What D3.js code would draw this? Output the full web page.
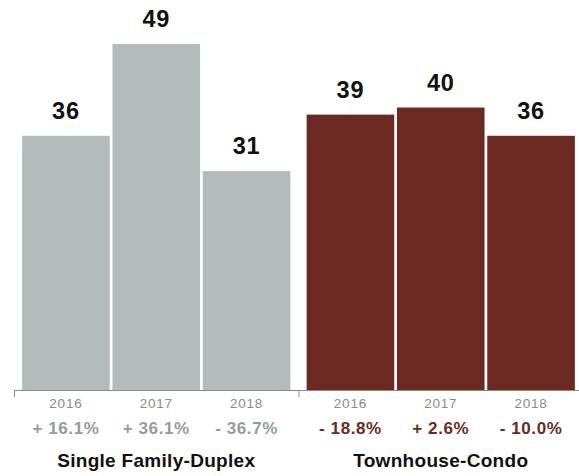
<!DOCTYPE html>
<html>
<head>
<meta charset="utf-8">
<script src="https://cdn.jsdelivr.net/npm/d3@7"></script>
<style>
  html, body { margin: 0; padding: 0; background: #fff; }
  svg { display: block; font-family: "Liberation Sans", Arial, Helvetica, sans-serif; }
</style>
</head>
<body>
<svg id="chart" width="579" height="476"></svg>
<script>
// Property types and years
const groups = ["Single Family-Duplex", "Townhouse-Condo"];
const years = ["2016", "2017", "2018"];

// Sales counts per year, one array per property type
const singleFamily = [36, 49, 31];
const townhouse = [39, 40, 36];

// Year-over-year change labels
const singleFamilyChange = ["+ 16.1%", "+ 36.1%", "- 36.7%"];
const townhouseChange = ["- 18.8%", "+ 2.6%", "- 10.0%"];

const barColors = ["#b4bbbb", "#6b2922"];
const changeColors = ["#939c9c", "#6b2922"];

const seriesValues = [singleFamily, townhouse];
const seriesChange = [singleFamilyChange, townhouseChange];

const svg = d3.select("#chart");
const baseY = 390;

const x0 = d3.scaleBand().domain(groups).range([14, 583]).padding(0);
const x1 = d3.scaleBand().domain(years).range([0, x0.bandwidth()])
  .paddingInner(0.03).paddingOuter(0.09);
const y = d3.scaleLinear().domain([0, 49]).range([baseY, 44]);

// Axis line with ticks on the group boundaries
const boundary = d3.scaleLinear().domain([0, groups.length]).range(x0.range());
svg.append("g")
  .attr("transform", `translate(0,${baseY})`)
  .call(d3.axisBottom(boundary).tickValues([0, 1, 2]).tickSize(7).tickSizeOuter(0).tickFormat(""))
  .call(g => g.select(".domain").attr("stroke", "#8a8a8a"))
  .call(g => g.selectAll(".tick line").attr("stroke", "#8a8a8a"));

groups.forEach((grp, gi) => {
  const g = svg.append("g").attr("transform", `translate(${x0(grp)},0)`);
  const rows = years.map((yr, i) => ({ yr, v: seriesValues[gi][i], c: seriesChange[gi][i] }));

  g.selectAll("rect").data(rows).join("rect")
    .attr("x", d => x1(d.yr))
    .attr("y", d => y(d.v))
    .attr("width", x1.bandwidth())
    .attr("height", d => baseY - y(d.v))
    .attr("fill", barColors[gi]);

  g.selectAll("text.val").data(rows).join("text")
    .attr("class", "val")
    .attr("x", d => x1(d.yr) + x1.bandwidth() / 2)
    .attr("y", d => y(d.v) - 17)
    .attr("text-anchor", "middle")
    .attr("font-size", 23.5)
    .attr("font-weight", "bold")
    .attr("letter-spacing", 0.8)
    .attr("fill", "#111")
    .text(d => d.v);

  g.selectAll("text.yr").data(rows).join("text")
    .attr("class", "yr")
    .attr("x", d => x1(d.yr) + x1.bandwidth() / 2)
    .attr("y", 408)
    .attr("text-anchor", "middle")
    .attr("font-size", 13.5)
    .attr("letter-spacing", 0.8)
    .attr("fill", "#8a8a8a")
    .text(d => d.yr);

  g.selectAll("text.chg").data(rows).join("text")
    .attr("class", "chg")
    .attr("x", d => x1(d.yr) + x1.bandwidth() / 2)
    .attr("y", 434)
    .attr("text-anchor", "middle")
    .attr("font-size", 17)
    .attr("font-weight", "bold")
    .attr("letter-spacing", 0.6)
    .attr("fill", changeColors[gi])
    .text(d => d.c);

  g.append("text")
    .attr("x", x0.bandwidth() / 2)
    .attr("y", 467)
    .attr("text-anchor", "middle")
    .attr("font-size", 19)
    .attr("font-weight", "bold")
    .attr("letter-spacing", 0.3)
    .attr("fill", "#111")
    .text(grp);
});
</script>
</body>
</html>
